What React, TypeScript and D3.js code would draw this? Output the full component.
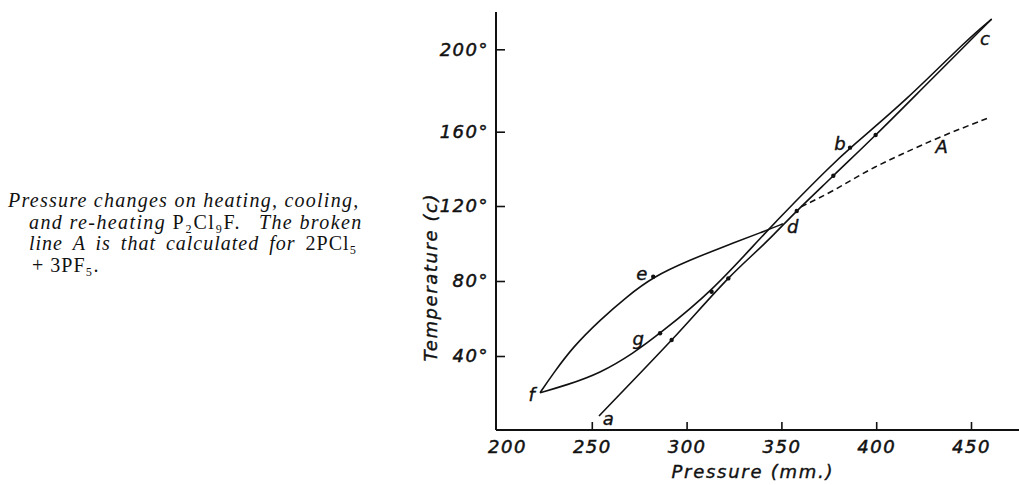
import React, { useEffect, useRef } from 'react'
import * as d3 from 'd3'

// pressure (mm.) / temperature (c)
const heatP = [253.8, 292.1, 322.0, 343.1, 358.1, 377.4, 399.7, 430.0, 460.9]
const heatT = [7.8, 48.5, 81.4, 101.9, 117.3, 136.3, 158.2, 186.2, 214.6]

const coolP = [350.8, 340.4, 319.4, 301.8, 282.4, 268.4, 254.3, 240.2, 229.7, 222.7]
const coolT = [110.5, 106.3, 98.3, 91.2, 82.3, 71.6, 59.2, 45.0, 30.7, 20.3]

const reheatP = [222.7, 236.8, 254.3, 271.9, 286.0, 313.2, 339.8, 358.1, 373.9, 386.2, 416.1, 447.7, 460.9]
const reheatT = [20.3, 24.4, 30.7, 41.4, 52.1, 74.3, 104.0, 123.2, 139.4, 151.4, 175.4, 204.5, 214.6]

const calcP = [360.4, 377.4, 395.0, 412.6, 433.6, 460.0]
const calcT = [119.6, 128.0, 139.0, 147.5, 157.3, 167.0]

const arrowP = [292.1, 322.0, 358.1, 377.4, 399.7, 286.0, 313.2, 386.2, 282.4]
const arrowT = [48.5, 81.4, 117.3, 136.3, 158.2, 52.1, 74.3, 151.4, 82.3]

const pointNames = ['a', 'f', 'g', 'e', 'd', 'b', 'c', 'A']
const pointP = [258.7, 218.3, 274.5, 276.3, 356.0, 380.9, 457.4, 434.5]
const pointT = [6.6, 19.1, 49.4, 84.1, 109.0, 153.6, 205.3, 151.9]

const xTicks = [200, 250, 300, 350, 400, 450]
const yTicks = [40, 80, 120, 160, 200]

const W = 1019, H = 485
const font = '"DejaVu Sans", sans-serif'
const serif = '"Liberation Serif", "DejaVu Serif", serif'

export default function App() {
    const ref = useRef<SVGGElement>(null)

    useEffect(() => {
        const svg = d3.select(ref.current)
        svg.selectAll('*').remove()

        const x = d3.scaleLinear().domain([200, 450]).range([497, 971])
        // the printed axis is not quite even, so follow its tick marks
        const y = d3.scaleLinear()
            .domain([0, 40, 80, 120, 160, 200, 218])
            .range([430.5, 356, 281, 206, 131.7, 49.3, 12])

        const ox = 496, oy = 430

        // axes
        const yAxis = d3.axisLeft(y)
            .tickValues(yTicks)
            .tickSizeInner(-9)
            .tickSizeOuter(0)
            .tickPadding(7)
            .tickFormat(d => d + '°')
        const gy = svg.append('g').attr('transform', `translate(${ox},0)`).call(yAxis)
        gy.select('.domain').remove()

        const xAxis = d3.axisBottom(x)
            .tickValues(xTicks)
            .tickSizeInner(-8)
            .tickSizeOuter(0)
            .tickPadding(10)
        const gx = svg.append('g').attr('transform', `translate(0,${oy})`).call(xAxis)
        gx.select('.domain').remove()
        gx.selectAll('.tick').filter((d: any) => d === 200).select('line').remove()
        gx.selectAll('.tick').filter((d: any) => d === 200).select('text').attr('x', 10)

        svg.selectAll('.tick line').attr('stroke', '#111').attr('stroke-width', 1.6)
        svg.selectAll('.tick text')
            .attr('fill', '#111')
            .attr('stroke', '#111')
            .attr('stroke-width', 0.5)
            .style('font-family', font)
            .style('font-style', 'italic')
            .style('font-size', '18px')
            .style('letter-spacing', '1.5px')

        svg.append('line')
            .attr('x1', ox).attr('x2', ox).attr('y1', 12).attr('y2', oy)
            .attr('stroke', '#111').attr('stroke-width', 2)
        svg.append('line')
            .attr('x1', ox).attr('x2', W).attr('y1', oy).attr('y2', oy)
            .attr('stroke', '#111').attr('stroke-width', 2)

        // axis titles
        svg.append('text')
            .attr('x', 752).attr('y', 478)
            .attr('text-anchor', 'middle')
            .attr('textLength', 161)
            .style('font-family', font).style('font-style', 'italic').style('font-size', '18px')
            .attr('fill', '#111').attr('stroke', '#111').attr('stroke-width', 0.4)
            .text('Pressure (mm.)')
        svg.append('text')
            .attr('transform', 'translate(437,278) rotate(-90)')
            .attr('text-anchor', 'middle')
            .attr('textLength', 167)
            .style('font-family', font).style('font-style', 'italic').style('font-size', '18px')
            .attr('fill', '#111').attr('stroke', '#111').attr('stroke-width', 0.4)
            .text('Temperature (c)')

        // curves
        const draw = (P: number[], T: number[], curve: d3.CurveFactory, dash?: string) => {
            const line = d3.line<number>()
                .x((_, i) => x(P[i]))
                .y((_, i) => y(T[i]))
                .curve(curve)
            svg.append('path')
                .attr('d', line(P))
                .attr('fill', 'none')
                .attr('stroke', '#111')
                .attr('stroke-width', 1.6)
                .attr('stroke-dasharray', dash || null)
        }
        draw(heatP, heatT, d3.curveCatmullRom.alpha(0.5))
        draw(coolP, coolT, d3.curveBasis)
        draw(reheatP, reheatT, d3.curveBasis)
        draw(calcP, calcT, d3.curveBasis, '6,4')

        svg.selectAll('.arrow')
            .data(arrowP)
            .enter()
            .append('circle')
            .attr('cx', (d) => x(d))
            .attr('cy', (_, i) => y(arrowT[i]))
            .attr('r', 2.2)
            .attr('fill', '#111')

        svg.selectAll('.pname')
            .data(pointNames)
            .enter()
            .append('text')
            .attr('x', (_, i) => x(pointP[i]))
            .attr('y', (_, i) => y(pointT[i]))
            .attr('dy', '0.35em')
            .attr('text-anchor', 'middle')
            .style('font-family', font).style('font-style', 'italic').style('font-size', '18px')
            .attr('fill', '#111').attr('stroke', '#111').attr('stroke-width', 0.4)
            .text(d => d)
    }, [])

    const cap = { fontFamily: serif, fontSize: 20, fill: '#111' }
    const it = { fontStyle: 'italic' as const }
    return (
        <svg width={W} height={H} style={{ position: 'absolute', left: 0, top: 0, background: '#fff' }}>
            <g ref={ref} />
            <text x={8} y={207} style={{ ...cap, ...it, letterSpacing: 1.25 }}>
                Pressure changes on heating, cooling,
            </text>
            <text x={29} y={228.5} style={{ ...cap, letterSpacing: 1.4 }}>
                <tspan style={it}>and re-heating </tspan>
                <tspan>P₂Cl₉F.</tspan>
                <tspan dx={18} style={it}>The broken</tspan>
            </text>
            <text x={29} y={250} style={{ ...cap, letterSpacing: 1, wordSpacing: 4 }}>
                <tspan style={it}>line A is that calculated for </tspan>
                <tspan>2PCl₅</tspan>
            </text>
            <text x={32} y={271.5} style={{ ...cap, letterSpacing: 1 }}>
                + 3PF₅.
            </text>
        </svg>
    )
}
